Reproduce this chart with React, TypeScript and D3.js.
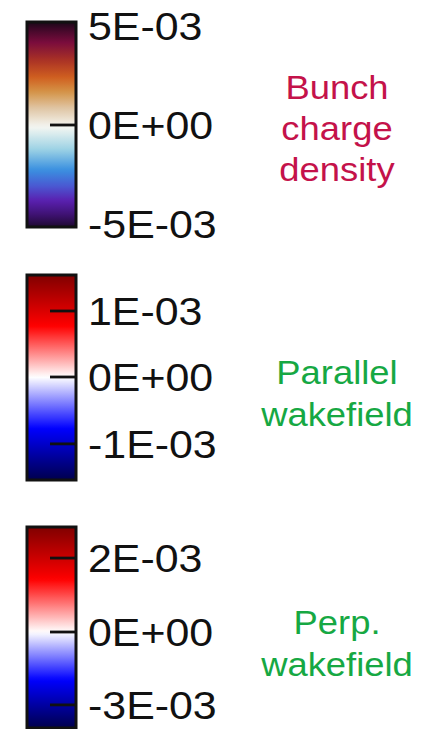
import React from "react";
import * as d3 from "d3";

// ---- data ----
const densityDomain = [-5e-3, 0, 5e-3];
const densityTicks = [5e-3, 0, -5e-3];
const densityLabels = ["5E-03", "0E+00", "-5E-03"];

const parallelDomain = [-1.54e-3, 0, 1.545e-3];
const parallelTicks = [1e-3, 0, -1e-3];
const parallelLabels = ["1E-03", "0E+00", "-1E-03"];

const perpDomain = [-3.95e-3, 0, 2.84e-3];
const perpTicks = [2e-3, 0, -3e-3];
const perpLabels = ["2E-03", "0E+00", "-3E-03"];

const densityTitle = ["Bunch", "charge", "density"];
const parallelTitle = ["Parallel", "wakefield"];
const perpTitle = ["Perp.", "wakefield"];

// colormaps (t: 0 = most negative, 1 = most positive)
const densityStops = [
  [0.0, "#1e0830"],
  [0.06, "#3e1272"],
  [0.13, "#5a20b0"],
  [0.2, "#4a58d2"],
  [0.28, "#3a90e0"],
  [0.38, "#9cd2e4"],
  [0.49, "#f4f6f2"],
  [0.58, "#e0c6a6"],
  [0.66, "#d49448"],
  [0.73, "#d06020"],
  [0.81, "#ac3424"],
  [0.9, "#7a0c3c"],
  [0.96, "#44082a"],
  [1.0, "#1a0818"],
];
const seismicStops = [
  [0.0, "#00004c"],
  [0.25, "#0000ff"],
  [0.5, "#ffffff"],
  [0.75, "#ff0000"],
  [1.0, "#800000"],
];

function makeCmap(stops: (number | string)[][]) {
  const s = d3
    .scaleLinear<string>()
    .domain(stops.map((d) => d[0] as number))
    .range(stops.map((d) => d[1] as string))
    .interpolate(d3.interpolateRgb)
    .clamp(true);
  return (t: number) => s(t);
}

const panels = [
  {
    id: "g1",
    domain: densityDomain,
    ticks: densityTicks,
    labels: densityLabels,
    cmap: makeCmap(densityStops),
    range: [227, 125, 22],
    title: densityTitle,
    titleColor: "#c4124a",
    titleY: [99, 140, 181],
  },
  {
    id: "g2",
    domain: parallelDomain,
    ticks: parallelTicks,
    labels: parallelLabels,
    cmap: makeCmap(seismicStops),
    range: [480, 377, 275],
    title: parallelTitle,
    titleColor: "#16a843",
    titleY: [384, 426],
  },
  {
    id: "g3",
    domain: perpDomain,
    ticks: perpTicks,
    labels: perpLabels,
    cmap: makeCmap(seismicStops),
    range: [728, 632, 527],
    title: perpTitle,
    titleColor: "#16a843",
    titleY: [634, 676],
  },
];

const barX = 27;
const barW = 49;
const labelX = 88;
const titleX = 337;
const font = "'Liberation Sans', Arial, Helvetica, sans-serif";

export default function App() {
  return (
    <div style={{ position: "absolute", left: 0, top: 0 }}>
      <svg width={424} height={729} style={{ display: "block" }}>
        <rect width={424} height={729} fill="#ffffff" />
        <defs>
          {panels.map((p) => {
            const y = d3.scaleLinear().domain(p.domain).range(p.range);
            const top = p.range[2];
            const bottom = p.range[0];
            const n = 60;
            const [mn, , mx] = p.domain;
            const stops = d3.range(n + 1).map((i) => {
              const py = top + ((bottom - top) * i) / n;
              const v = y.invert(py);
              const t = v >= 0 ? 0.5 + (0.5 * v) / mx : 0.5 - (0.5 * v) / mn;
              return { off: i / n, color: p.cmap(t) };
            });
            return (
              <linearGradient key={p.id} id={p.id} x1="0" y1="0" x2="0" y2="1">
                {stops.map((s, i) => (
                  <stop key={i} offset={s.off} stopColor={s.color} />
                ))}
              </linearGradient>
            );
          })}
        </defs>
        {panels.map((p) => {
          const y = d3.scaleLinear().domain(p.domain).range(p.range);
          const top = p.range[2];
          const bottom = p.range[0];
          return (
            <g key={p.id}>
              <rect
                x={barX}
                y={top}
                width={barW}
                height={bottom - top}
                fill={`url(#${p.id})`}
                stroke="#111"
                strokeWidth={3}
              />
              {p.ticks.map((t, i) => {
                const ty = y(t);
                const isEnd = Math.abs(ty - top) < 2 || Math.abs(ty - bottom) < 2;
                const ly = Math.min(Math.max(ty, top + 4), bottom - 3);
                return (
                  <g key={i}>
                    {!isEnd && (
                      <line
                        x1={50}
                        x2={barX + barW}
                        y1={ty}
                        y2={ty}
                        stroke="#111"
                        strokeWidth={2.8}
                      />
                    )}
                    <text
                      transform={`translate(${labelX},${ly + 14}) scale(1.1,1)`}
                      fontFamily={font}
                      fontSize={39}
                      fill="#111"
                    >
                      {p.labels[i]}
                    </text>
                  </g>
                );
              })}
              {p.title.map((line, i) => (
                <text
                  key={i}
                  transform={`translate(${titleX},${p.titleY[i]}) scale(1.12,1)`}
                  textAnchor="middle"
                  fontFamily={font}
                  fontSize={32.5}
                  fill={p.titleColor}
                >
                  {line}
                </text>
              ))}
            </g>
          );
        })}
      </svg>
    </div>
  );
}
